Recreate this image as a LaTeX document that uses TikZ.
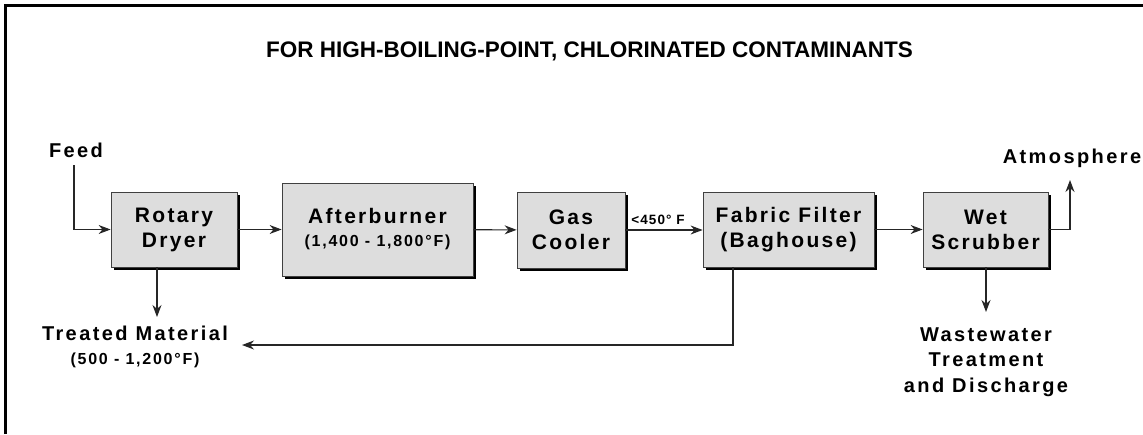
\documentclass[tikz,border=0pt]{standalone}
\usepackage{fontspec}
\setmainfont{Liberation Sans}
\usetikzlibrary{arrows.meta,shadows}
\definecolor{boxgray}{RGB}{221,221,221}
\newcommand{\unitfont}{\fontsize{21}{25}\selectfont\bfseries\addfontfeature{LetterSpace=11}}
\newcommand{\labfont}{\fontsize{20}{25.5}\selectfont\bfseries\addfontfeature{LetterSpace=12}}
\newcommand{\tempfont}{\fontsize{16}{20}\selectfont\bfseries\addfontfeature{LetterSpace=11}}
\newcommand{\coolfont}{\fontsize{13.5}{15}\selectfont\bfseries\addfontfeature{LetterSpace=8}}
\newcommand{\titlefont}{\fontsize{22.5}{24}\selectfont\bfseries}

\begin{document}
\begin{tikzpicture}[x=1pt,y=-1pt,
  unit/.style={draw=black!75, line width=.8pt, fill=boxgray, align=center,
    inner sep=0pt, font=\unitfont,
    drop shadow={shadow xshift=3pt, shadow yshift=-3pt, fill=black, opacity=1}},
  flow/.style={draw=black!85, line width=1.1pt, -{Stealth[length=12pt,width=9pt]}},
  lab/.style={align=center, inner sep=0pt, font=\labfont}]
      \useasboundingbox (0,0) rectangle (1143,434);
      %% frame: only the top and the left side
      \draw[line width=2.5pt] (5.5,434) -- (5.5,5.5) -- (1143,5.5);
      \node (title) at (589.5,51) [font=\titlefont] {FOR HIGH-BOILING-POINT, CHLORINATED CONTAMINANTS};

      %% the five units
      \node (dryer) at (174,229.5) [unit, minimum width=126pt, minimum height=75pt] {Rotary\\Dryer};
      \node (burner) at (377.5,229.5) [unit, minimum width=191pt, minimum height=93pt]
        {Afterburner\\[-2pt]{\tempfont (1,400 - 1,800°F)}};
      \node (cooler) at (571,230) [unit, minimum width=108pt, minimum height=76pt] {Gas\\Cooler};
      \node (filter) at (788.5,229.5) [unit, minimum width=171pt, minimum height=75pt] {Fabric Filter\\(Baghouse)};
      \node (scrubber) at (985.5,229.5) [unit, minimum width=125pt, minimum height=75pt] {Wet\\Scrubber};

      %% streams in and out
      \node (feed) at (76,150) [lab] {Feed};
      \node (atmos) at (1072,158) [lab] {Atmosphere};
      \node (treated) at (135,347) [lab] {Treated Material\\[-2pt]{\tempfont (500 - 1,200°F)}};
      \node (waste) at (986,362) [lab] {Wastewater\\Treatment\\and Discharge};
      \coordinate (atmtip) at (1070,180);
      \coordinate (drytip) at (157,317);
      \coordinate (wastetip) at (986,312);
      \coordinate (ret) at (733,345);
      \coordinate (treatin) at (242,345);

      \draw[flow] (74,165) |- (dryer.west);
      \draw[flow] (dryer) -- (burner);
      \draw[flow] (burner) -- (cooler);
      \draw[flow] (cooler.east) -- (filter.west |- cooler.east)
        node [midway, above=1pt, xshift=-6pt, font=\coolfont] {<450° F};
      \draw[flow] (filter) -- (scrubber);
      \draw[flow] (scrubber.east) -| (atmtip);
      \draw[flow] (dryer.south -| drytip) -- (drytip);
      \draw[flow] (scrubber.south -| wastetip) -- (wastetip);
      \draw[flow] (filter.south -| ret) |- (treatin);
\end{tikzpicture}
\end{document}
